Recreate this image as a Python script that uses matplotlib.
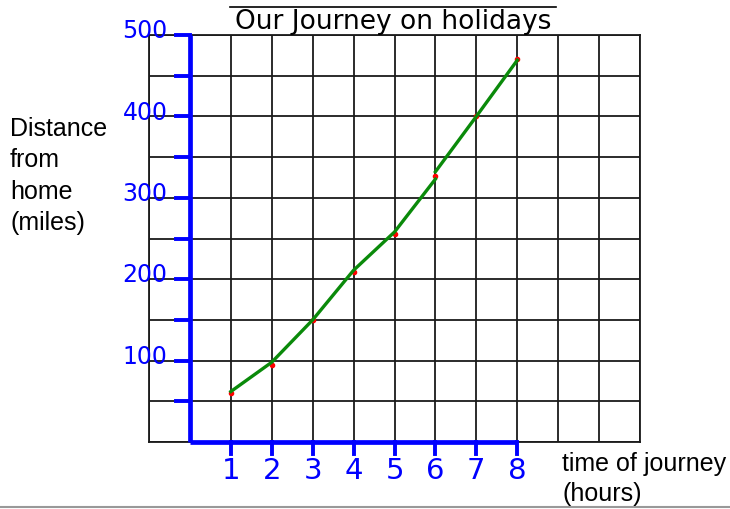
import matplotlib
matplotlib.use("Agg")
import matplotlib.pyplot as plt
from matplotlib.lines import Line2D

# hours and distance (miles)
hours = [1, 2, 3, 4, 5, 6, 7, 8]
dist_dots = [60, 94, 150, 209, 256, 327, 401, 471]

# the hand-drawn green line, drawn in two strokes
line_a_hours = [1, 2, 3, 4, 5, 6]
line_a_dist = [62, 98, 150, 211, 258, 323]
line_b_hours = [6, 7, 8]
line_b_dist = [332, 400, 469]

y_marks = [100, 200, 300, 400, 500]
y_labels = ["100", "200", "300", "400", "500"]
x_labels = ["1", "2", "3", "4", "5", "6", "7", "8"]

blue = "#0000ff"
green = "#0a8a0a"

fig = plt.figure(figsize=(7.3, 5.1), dpi=100)
ax = fig.add_axes([149 / 730, 67 / 510, 491 / 730, 407 / 510])
ax.set_xlim(-1, 11)
ax.set_ylim(0, 500)

# black grid paper
for gx in range(-1, 12):
    ax.axvline(gx, color="#1a1a1a", lw=1.3, zorder=1)
for gy in range(0, 501, 50):
    ax.axhline(gy, color="#1a1a1a", lw=1.3, zorder=1)
ax.set_xticks([])
ax.set_yticks([])
for s in ax.spines.values():
    s.set_color("#1a1a1a")
    s.set_linewidth(1.3)

# hand-drawn blue axes
ax.plot([0, 0], [0, 500], color=blue, lw=3.4, clip_on=False, zorder=3,
        solid_capstyle="butt")
ax.plot([0, 8], [0, 0], color=blue, lw=3.4, clip_on=False, zorder=3,
        solid_capstyle="butt")
for h in hours:
    ax.plot([h, h], [0, -15], color=blue, lw=2.8, clip_on=False, zorder=3)
for v in range(50, 501, 50):
    ax.plot([-0.35, 0], [v, v], color=blue, lw=2.8, clip_on=False, zorder=3)

for h, lab in zip(hours, x_labels):
    ax.text(h, -34, lab, color=blue, fontsize=21, ha="center", va="center",
            clip_on=False)
for v, lab in zip(y_marks, y_labels):
    ax.text(-0.55, v + 6, lab, color=blue, fontsize=17, ha="right",
            va="center", clip_on=False)

# journey
ax.plot(line_a_hours, line_a_dist, color=green, lw=2.4, zorder=4)
ax.plot(line_b_hours, line_b_dist, color=green, lw=2.4, zorder=4)
ax.plot(hours, dist_dots, "o", color="red", ms=3, zorder=3)

# title with overline
fig.text(393 / 730, 1 - 22 / 510, "Our Journey on holidays", fontsize=19,
         ha="center", va="center", family="DejaVu Sans")
fig.add_artist(Line2D([230 / 730, 556 / 730], [1 - 8 / 510, 1 - 8 / 510],
                      color="black", lw=1.2))

fig.text(10 / 730, 1 - 176 / 510, "Distance\nfrom\nhome\n(miles)",
         fontsize=18, ha="left", va="center", family="Liberation Sans",
         linespacing=1.38)
fig.text(562 / 730, 1 - 479 / 510, "time of journey\n(hours)",
         fontsize=18, ha="left", va="center", family="Liberation Sans",
         linespacing=1.3)

# page edge at the bottom
fig.add_artist(Line2D([0, 1], [1 - 508 / 510, 1 - 508 / 510],
                      color="#999999", lw=1.5))

fig.savefig("out.png", dpi=100)
